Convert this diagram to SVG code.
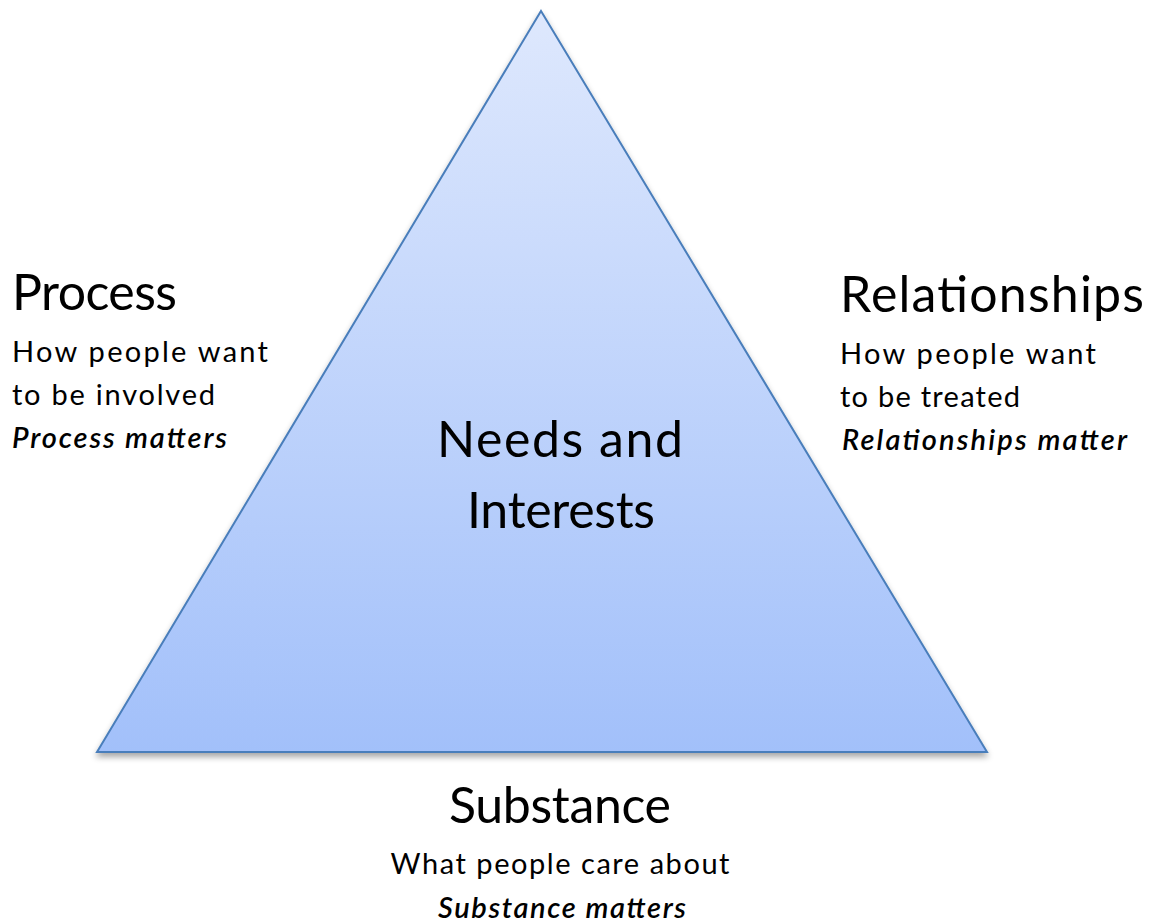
<svg xmlns="http://www.w3.org/2000/svg" width="1151" height="922" viewBox="0 0 1151 922">
<defs>
<linearGradient id="g" x1="0" y1="0" x2="0" y2="1">
<stop offset="0" stop-color="#dee8fd"/>
<stop offset="1" stop-color="#a2c0fa"/>
</linearGradient>
<filter id="sh" x="-10%" y="-10%" width="120%" height="130%">
<feGaussianBlur in="SourceAlpha" stdDeviation="3"/>
<feOffset dx="0" dy="4"/>
<feComponentTransfer><feFuncA type="linear" slope="0.35"/></feComponentTransfer>
<feMerge><feMergeNode/><feMergeNode in="SourceGraphic"/></feMerge>
</filter>
</defs>
<style>
text{font-family:Lato,"Open Sans",sans-serif;fill:#000}
.h{font-size:50px}
.s{font-size:29px}
.i{font-size:29px;font-style:italic;font-weight:600}
.m{text-anchor:middle}
</style>
<rect width="1151" height="922" fill="#fff"/>
<g id="triangle">
<polygon points="541,11 987,752 97,752" fill="url(#g)" stroke="#4a7ebb" stroke-width="2" stroke-linejoin="miter" filter="url(#sh)"/>
<text class="h m" x="560" y="457" textLength="246" lengthAdjust="spacing">Needs and</text>
<text class="h m" x="561" y="528" textLength="188" lengthAdjust="spacing">Interests</text>
</g>
<g id="process">
<text class="h" x="12" y="310" textLength="165" lengthAdjust="spacing">Process</text>
<text class="s" x="12" y="362" textLength="256" lengthAdjust="spacing">How people want</text>
<text class="s" x="12" y="405" textLength="203" lengthAdjust="spacing">to be involved</text>
<text class="i" x="12" y="448" textLength="215" lengthAdjust="spacing">Process matters</text>
</g>
<g id="relationships">
<text class="h" x="840" y="312" textLength="304" lengthAdjust="spacing">Relationships</text>
<text class="s" x="840" y="364" textLength="256" lengthAdjust="spacing">How people want</text>
<text class="s" x="840" y="407" textLength="180" lengthAdjust="spacing">to be treated</text>
<text class="i" x="842" y="450" textLength="285" lengthAdjust="spacing">Relationships matter</text>
</g>
<g id="substance">
<text class="h m" x="560" y="823" textLength="222" lengthAdjust="spacing">Substance</text>
<text class="s m" x="560" y="874" textLength="339" lengthAdjust="spacing">What people care about</text>
<text class="i m" x="562" y="918" textLength="248" lengthAdjust="spacing">Substance matters</text>
</g>
<g id="connectors"/>
</svg>
